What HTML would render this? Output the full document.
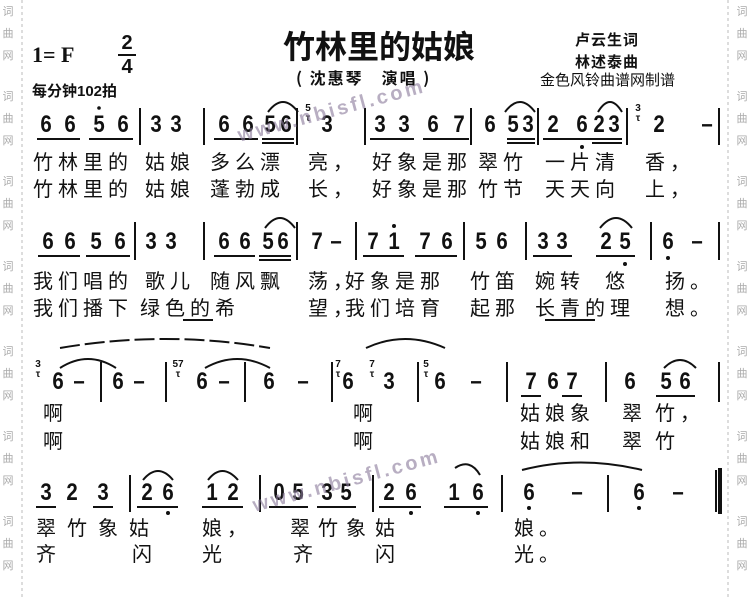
<!DOCTYPE html>
<html><head><meta charset="utf-8">
<style>
body{margin:0;background:#fff;}
#p{position:relative;width:750px;height:597px;overflow:hidden;background:#fff;font-family:"Liberation Sans","Noto Sans CJK SC",sans-serif;color:#111;}
.n{position:absolute;width:20px;margin-left:-10px;text-align:center;font:bold 24px/22px "Liberation Sans",sans-serif;transform:scaleX(0.85);}
.l{position:absolute;font:20px/22px "Noto Sans CJK SC","WenQuanYi Zen Hei",sans-serif;letter-spacing:5px;white-space:nowrap;}
.s{position:absolute;font:bold 10px/10px "Liberation Sans",sans-serif;text-align:center;width:14px;margin-left:-7px;}
.w{position:absolute;font:11px/22px "Noto Sans CJK SC",sans-serif;color:#aaa;width:12px;text-align:center;}
svg{position:absolute;left:0;top:0;}
</style></head><body><div id="p">
<svg width="750" height="597">
<g stroke="#bbb" stroke-dasharray="3,3" stroke-width="1"><line x1="22" y1="0" x2="22" y2="597"/><line x1="728" y1="0" x2="728" y2="597"/></g>
<g stroke="#111" stroke-width="2">
<line x1="140" y1="108" x2="140" y2="145"/><line x1="204" y1="108" x2="204" y2="145"/><line x1="297" y1="108" x2="297" y2="145"/><line x1="365" y1="108" x2="365" y2="145"/><line x1="471" y1="108" x2="471" y2="145"/><line x1="538" y1="108" x2="538" y2="145"/><line x1="627" y1="108" x2="627" y2="145"/><line x1="719" y1="108" x2="719" y2="145"/>
<line x1="135" y1="222" x2="135" y2="260"/><line x1="204" y1="222" x2="204" y2="260"/><line x1="297" y1="222" x2="297" y2="260"/><line x1="356" y1="222" x2="356" y2="260"/><line x1="464" y1="222" x2="464" y2="260"/><line x1="526" y1="222" x2="526" y2="260"/><line x1="651" y1="222" x2="651" y2="260"/><line x1="719" y1="222" x2="719" y2="260"/>
<line x1="101" y1="362" x2="101" y2="402"/><line x1="166" y1="362" x2="166" y2="402"/><line x1="245" y1="362" x2="245" y2="402"/><line x1="332" y1="362" x2="332" y2="402"/><line x1="418" y1="362" x2="418" y2="402"/><line x1="507" y1="362" x2="507" y2="402"/><line x1="606" y1="362" x2="606" y2="402"/><line x1="719" y1="362" x2="719" y2="402"/>
<line x1="130" y1="475" x2="130" y2="512"/><line x1="260" y1="475" x2="260" y2="512"/><line x1="373" y1="475" x2="373" y2="512"/><line x1="502" y1="475" x2="502" y2="512"/><line x1="608" y1="475" x2="608" y2="512"/>
<line x1="716" y1="470" x2="716" y2="512"/>
</g>
<rect x="718" y="468" width="4" height="46" fill="#111"/>
<g fill="#111">
<rect x="37" y="138" width="43" height="2"/><rect x="89" y="138" width="44" height="2"/><rect x="214" y="138" width="44" height="2"/><rect x="262" y="138" width="32" height="2"/><rect x="262" y="142" width="32" height="2"/><rect x="370" y="138" width="44" height="2"/><rect x="423" y="138" width="46" height="2"/><rect x="507" y="138" width="28" height="2"/><rect x="507" y="142" width="28" height="2"/><rect x="543" y="138" width="49" height="2"/><rect x="592" y="138" width="30" height="2"/><rect x="592" y="142" width="30" height="2"/>
<rect x="38" y="255" width="42" height="2"/><rect x="86" y="255" width="44" height="2"/><rect x="214" y="255" width="41" height="2"/><rect x="259" y="255" width="32" height="2"/><rect x="259" y="259" width="32" height="2"/><rect x="363" y="255" width="41" height="2"/><rect x="415" y="255" width="42" height="2"/><rect x="533" y="255" width="39" height="2"/><rect x="596" y="255" width="39" height="2"/>
<rect x="521" y="395" width="20" height="2"/><rect x="562" y="395" width="20" height="2"/><rect x="656" y="395" width="39" height="2"/>
<rect x="36" y="506" width="20" height="2"/><rect x="93" y="506" width="20" height="2"/><rect x="137" y="506" width="41" height="2"/><rect x="202" y="506" width="41" height="2"/><rect x="269" y="506" width="39" height="2"/><rect x="317" y="506" width="39" height="2"/><rect x="379" y="506" width="42" height="2"/><rect x="444" y="506" width="44" height="2"/>
<circle cx="99" cy="108" r="1.8"/><circle cx="582" cy="147" r="2"/><circle cx="625" cy="264" r="2"/><circle cx="668" cy="258" r="2"/>
<circle cx="168" cy="513" r="2"/><circle cx="411" cy="513" r="2"/><circle cx="478" cy="513" r="2"/><circle cx="529" cy="508" r="2"/><circle cx="639" cy="508" r="2"/>
</g>
<g fill="none" stroke="#111" stroke-width="2">
<path d="M268 112 Q283 92 298 112"/><path d="M505 112 Q520 92 535 112"/><path d="M598 112 Q610 92 622 112"/>
<path d="M265 228 Q280 208 295 228"/><path d="M600 228 Q616 208 632 228"/>
<path d="M60 348 Q165 330 270 348" stroke-dasharray="20,5"/><path d="M60 368 Q88 350 116 368"/><path d="M205 368 Q237 350 270 368"/><path d="M366 348 Q405 330 445 348"/><path d="M664 368 Q680 352 696 368"/>
<path d="M143 480 Q158 462 173 480"/><path d="M208 480 Q222 462 238 480"/><path d="M455 468 Q470 458 480 475"/><path d="M522 470 Q580 455 642 470"/>
</g>
</svg>
<div style="position:absolute;left:283px;top:25px;font:bold 32px/40px 'Noto Sans CJK SC',sans-serif;">竹林里的姑娘</div>
<div style="position:absolute;left:296px;top:66px;font:bold 16px/22px 'Noto Sans CJK SC',sans-serif;letter-spacing:2px;">( 沈惠琴　演唱 )</div>
<div style="position:absolute;left:575px;top:30px;font:bold 15px/20px 'Noto Sans CJK SC',sans-serif;letter-spacing:1px;">卢云生词</div>
<div style="position:absolute;left:575px;top:52px;font:bold 15px/20px 'Noto Sans CJK SC',sans-serif;letter-spacing:1px;">林述泰曲</div>
<div style="position:absolute;left:540px;top:70px;font:15px/20px 'Noto Sans CJK SC',sans-serif;">金色风铃曲谱网制谱</div>
<div style="position:absolute;left:32px;top:43px;font:bold 22px/24px 'Liberation Serif',serif;">1= F</div>
<div style="position:absolute;left:118px;top:32px;font:bold 20px/22px 'Liberation Sans',sans-serif;text-align:center;width:18px;">2<div style="border-top:2px solid #111;line-height:22px;">4</div></div>
<div style="position:absolute;left:32px;top:82px;font:bold 15px/20px 'Liberation Sans','Noto Sans CJK SC',sans-serif;">每分钟102拍</div>
<div class="n" style="left:46px;top:114px">6</div><div class="n" style="left:70px;top:114px">6</div><div class="n" style="left:99px;top:114px">5</div><div class="n" style="left:123px;top:114px">6</div>
<div class="n" style="left:156px;top:114px">3</div><div class="n" style="left:176px;top:114px">3</div>
<div class="n" style="left:224px;top:114px">6</div><div class="n" style="left:248px;top:114px">6</div><div class="n" style="left:270px;top:114px">5</div><div class="n" style="left:286px;top:114px">6</div>
<div class="s" style="left:308px;top:104px">5<br>τ</div><div class="n" style="left:327px;top:114px">3</div>
<div class="n" style="left:380px;top:114px">3</div><div class="n" style="left:404px;top:114px">3</div><div class="n" style="left:433px;top:114px">6</div><div class="n" style="left:459px;top:114px">7</div>
<div class="n" style="left:490px;top:114px">6</div><div class="n" style="left:513px;top:114px">5</div><div class="n" style="left:528px;top:114px">3</div>
<div class="n" style="left:553px;top:114px">2</div><div class="n" style="left:582px;top:114px">6</div><div class="n" style="left:599px;top:114px">2</div><div class="n" style="left:614px;top:114px">3</div>
<div class="s" style="left:638px;top:104px">3<br>τ</div><div class="n" style="left:659px;top:114px">2</div><div class="n" style="left:707px;top:114px">–</div>
<div class="l" style="left:33px;top:150px">竹林里的</div><div class="l" style="left:145px;top:150px">姑娘</div><div class="l" style="left:210px;top:150px">多么漂</div><div class="l" style="left:308px;top:150px">亮，</div><div class="l" style="left:372px;top:150px">好象是那</div><div class="l" style="left:478px;top:150px">翠竹</div><div class="l" style="left:545px;top:150px">一片清</div><div class="l" style="left:645px;top:150px">香，</div>
<div class="l" style="left:33px;top:177px">竹林里的</div><div class="l" style="left:145px;top:177px">姑娘</div><div class="l" style="left:210px;top:177px">蓬勃成</div><div class="l" style="left:308px;top:177px">长，</div><div class="l" style="left:372px;top:177px">好象是那</div><div class="l" style="left:478px;top:177px">竹节</div><div class="l" style="left:545px;top:177px">天天向</div><div class="l" style="left:645px;top:177px">上，</div>
<div class="n" style="left:48px;top:231px">6</div><div class="n" style="left:70px;top:231px">6</div><div class="n" style="left:96px;top:231px">5</div><div class="n" style="left:120px;top:231px">6</div>
<div class="n" style="left:151px;top:231px">3</div><div class="n" style="left:171px;top:231px">3</div>
<div class="n" style="left:224px;top:231px">6</div><div class="n" style="left:245px;top:231px">6</div><div class="n" style="left:268px;top:231px">5</div><div class="n" style="left:283px;top:231px">6</div>
<div class="n" style="left:317px;top:231px">7</div><div class="n" style="left:336px;top:231px">–</div>
<div class="n" style="left:373px;top:231px">7</div><div class="n" style="left:394px;top:231px">1</div><div class="n" style="left:425px;top:231px">7</div><div class="n" style="left:447px;top:231px">6</div>
<div class="n" style="left:481px;top:231px">5</div><div class="n" style="left:502px;top:231px">6</div>
<div class="n" style="left:543px;top:231px">3</div><div class="n" style="left:562px;top:231px">3</div><div class="n" style="left:606px;top:231px">2</div><div class="n" style="left:625px;top:231px">5</div>
<div class="n" style="left:668px;top:231px">6</div><div class="n" style="left:697px;top:231px">–</div>
<div style="position:absolute;left:392px;top:224px;width:4px;height:4px;background:#111;border-radius:2px"></div>
<div class="l" style="left:33px;top:269px">我们唱的</div><div class="l" style="left:145px;top:269px">歌儿</div><div class="l" style="left:210px;top:269px">随风飘</div><div class="l" style="left:308px;top:269px">荡，</div><div class="l" style="left:345px;top:269px">好象是那</div><div class="l" style="left:470px;top:269px">竹笛</div><div class="l" style="left:535px;top:269px">婉转</div><div class="l" style="left:605px;top:269px">悠</div><div class="l" style="left:665px;top:269px">扬。</div>
<div class="l" style="left:33px;top:296px">我们播下</div><div class="l" style="left:140px;top:296px">绿色的希</div><div class="l" style="left:308px;top:296px">望，</div><div class="l" style="left:345px;top:296px">我们培育</div><div class="l" style="left:470px;top:296px">起那</div><div class="l" style="left:535px;top:296px">长青的理</div><div class="l" style="left:665px;top:296px">想。</div>
<div style="position:absolute;left:183px;top:319px;width:30px;height:2px;background:#111"></div>
<div style="position:absolute;left:545px;top:319px;width:50px;height:2px;background:#111"></div>
<div class="s" style="left:38px;top:360px">3<br>τ</div><div class="n" style="left:58px;top:371px">6</div><div class="n" style="left:79px;top:371px">–</div>
<div class="n" style="left:118px;top:371px">6</div><div class="n" style="left:139px;top:371px">–</div>
<div class="s" style="left:178px;top:360px;width:20px;margin-left:-10px">57<br>τ</div><div class="n" style="left:202px;top:371px">6</div><div class="n" style="left:224px;top:371px">–</div>
<div class="n" style="left:269px;top:371px">6</div><div class="n" style="left:303px;top:371px">–</div>
<div class="s" style="left:338px;top:360px">7<br>τ</div><div class="n" style="left:348px;top:371px">6</div><div class="s" style="left:372px;top:360px">7<br>τ</div><div class="n" style="left:389px;top:371px">3</div>
<div class="s" style="left:426px;top:360px">5<br>τ</div><div class="n" style="left:440px;top:371px">6</div><div class="n" style="left:476px;top:371px">–</div>
<div class="n" style="left:531px;top:371px">7</div><div class="n" style="left:553px;top:371px">6</div><div class="n" style="left:572px;top:371px">7</div>
<div class="n" style="left:630px;top:371px">6</div><div class="n" style="left:666px;top:371px">5</div><div class="n" style="left:685px;top:371px">6</div>
<div class="l" style="left:43px;top:401px">啊</div><div class="l" style="left:353px;top:401px">啊</div><div class="l" style="left:520px;top:401px">姑娘象</div><div class="l" style="left:622px;top:401px">翠</div><div class="l" style="left:655px;top:401px">竹，</div>
<div class="l" style="left:43px;top:429px">啊</div><div class="l" style="left:353px;top:429px">啊</div><div class="l" style="left:520px;top:429px">姑娘和</div><div class="l" style="left:622px;top:429px">翠</div><div class="l" style="left:655px;top:429px">竹</div>
<div class="n" style="left:46px;top:482px">3</div><div class="n" style="left:72px;top:482px">2</div><div class="n" style="left:103px;top:482px">3</div>
<div class="n" style="left:147px;top:482px">2</div><div class="n" style="left:168px;top:482px">6</div><div class="n" style="left:212px;top:482px">1</div><div class="n" style="left:233px;top:482px">2</div>
<div class="n" style="left:279px;top:482px">0</div><div class="n" style="left:298px;top:482px">5</div><div class="n" style="left:327px;top:482px">3</div><div class="n" style="left:346px;top:482px">5</div>
<div class="n" style="left:389px;top:482px">2</div><div class="n" style="left:411px;top:482px">6</div><div class="n" style="left:454px;top:482px">1</div><div class="n" style="left:478px;top:482px">6</div>
<div class="n" style="left:529px;top:482px">6</div><div class="n" style="left:577px;top:482px">–</div><div class="n" style="left:639px;top:482px">6</div><div class="n" style="left:678px;top:482px">–</div>
<div class="l" style="left:36px;top:516px;letter-spacing:11px">翠竹象姑</div><div class="l" style="left:202px;top:516px">娘，</div><div class="l" style="left:290px;top:516px;letter-spacing:8px">翠竹象</div><div class="l" style="left:375px;top:516px">姑</div><div class="l" style="left:514px;top:516px">娘。</div>
<div class="l" style="left:36px;top:542px">齐</div><div class="l" style="left:132px;top:542px">闪</div><div class="l" style="left:202px;top:542px">光</div><div class="l" style="left:293px;top:542px">齐</div><div class="l" style="left:375px;top:542px">闪</div><div class="l" style="left:514px;top:542px">光。</div>
<div style="position:absolute;left:235px;top:100px;font:bold 20px 'Liberation Sans',sans-serif;color:#8a7a9a;transform:rotate(-15deg);letter-spacing:3px;opacity:.6">www.nbisfl.com</div>
<div style="position:absolute;left:250px;top:470px;font:bold 20px 'Liberation Sans',sans-serif;color:#8a7a9a;transform:rotate(-15deg);letter-spacing:3px;opacity:.6">www.nbisfl.com</div>
<div class="w" style="left:2px;top:0px">词<br>曲<br>网</div><div class="w" style="left:2px;top:85px">词<br>曲<br>网</div><div class="w" style="left:2px;top:170px">词<br>曲<br>网</div><div class="w" style="left:2px;top:255px">词<br>曲<br>网</div><div class="w" style="left:2px;top:340px">词<br>曲<br>网</div><div class="w" style="left:2px;top:425px">词<br>曲<br>网</div><div class="w" style="left:2px;top:510px">词<br>曲<br>网</div>
<div class="w" style="left:736px;top:0px">词<br>曲<br>网</div><div class="w" style="left:736px;top:85px">词<br>曲<br>网</div><div class="w" style="left:736px;top:170px">词<br>曲<br>网</div><div class="w" style="left:736px;top:255px">词<br>曲<br>网</div><div class="w" style="left:736px;top:340px">词<br>曲<br>网</div><div class="w" style="left:736px;top:425px">词<br>曲<br>网</div><div class="w" style="left:736px;top:510px">词<br>曲<br>网</div>
</div></body></html>
